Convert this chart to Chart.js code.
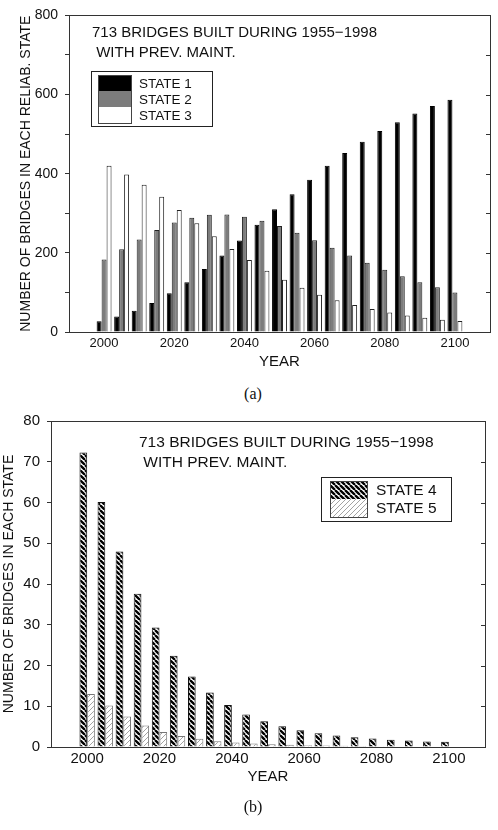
<!DOCTYPE html>
<html>
<head>
<meta charset="utf-8">
<script src="https://cdn.jsdelivr.net/npm/chart.js@4.4.0/dist/chart.umd.min.js"></script>
<style>
  body { margin: 0; background: #fff; width: 498px; height: 830px; position: relative; overflow: hidden;
         font-family: "Liberation Sans", Arial, sans-serif; color: #111; }
  .wrap { position: absolute; left: 0; width: 498px; }
  .note { position: absolute; line-height: 20px; white-space: pre; }
  .cap { position: absolute; left: 4px; width: 498px; text-align: center;
         font-family: "Liberation Serif", "Times New Roman", serif; font-size: 16px; }
</style>
</head>
<body>
<div class="wrap" style="top:0;height:380px"><canvas id="chartA"></canvas></div>
<div class="note" style="left:92px;top:22px;font-size:15px">713 BRIDGES BUILT DURING 1955−1998
 WITH PREV. MAINT.</div>
<div class="cap" style="top:385px">(a)</div>

<div class="wrap" style="top:400px;height:400px"><canvas id="chartB"></canvas></div>
<div class="note" style="left:139px;top:432px;font-size:15.5px">713 BRIDGES BUILT DURING 1955−1998
 WITH PREV. MAINT.</div>
<div class="cap" style="top:798px">(b)</div>

<script>
// years of the simulation (one group of bars every 5 years)
const years = [2000, 2005, 2010, 2015, 2020, 2025, 2030, 2035, 2040, 2045, 2050,
               2055, 2060, 2065, 2070, 2075, 2080, 2085, 2090, 2095, 2100];
const yearTicks = [2000, 2020, 2040, 2060, 2080, 2100];

// chart (a) - states 1..3
const state1 = [27, 39, 54, 73, 98, 126, 159, 193, 231, 271, 310, 348, 385, 420, 452, 481, 508, 530, 552, 571, 587];
const state2 = [183, 209, 234, 258, 277, 289, 296, 297, 291, 281, 268, 251, 232, 213, 193, 175, 157, 141, 126, 113, 100];
const state3 = [420, 398, 372, 342, 308, 275, 242, 210, 182, 155, 132, 112, 94, 80, 68, 58, 49, 42, 36, 31, 28];

// chart (b) - states 4 and 5
const state4 = [72.3, 60.1, 48.0, 37.6, 29.3, 22.4, 17.3, 13.4, 10.3, 8.0, 6.3, 5.1, 4.1, 3.4, 2.8, 2.4, 2.1, 1.8, 1.6, 1.35, 1.3];
const state5 = [13.0, 10.2, 7.5, 5.3, 3.7, 2.7, 2.0, 1.4, 1.1, 0.85, 0.7, 0.55, 0.45, 0.35, 0.3, 0.25, 0.2, 0.15, 0.1, 0.1, 0.1];

Chart.defaults.font.family = '"Liberation Sans", Arial, sans-serif';
Chart.defaults.color = '#111';

const pairs = vals => vals.map((v, i) => ({ x: years[i], y: v }));

// hatch patterns for states 4 and 5
function stripes(size, color, width, dir, bg) {
  const c = document.createElement('canvas');
  c.width = c.height = size;
  const g = c.getContext('2d');
  g.fillStyle = bg;
  g.fillRect(0, 0, size, size);
  g.strokeStyle = color;
  g.lineWidth = width;
  g.beginPath();
  for (let k = -1; k <= 1; k++) {
    if (dir === '\\') { g.moveTo(k * size, 0); g.lineTo(k * size + size, size); }
    else { g.moveTo(k * size, size); g.lineTo(k * size + size, 0); }
  }
  g.stroke();
  return g.createPattern(c, 'repeat');
}
const hatch4 = stripes(5, '#000', 2.3, '\\', '#fff');
const hatch5 = stripes(5, '#999', 0.9, '/', '#fff');

// box around plot, inward ticks on the right, and the boxed legend
const frame = {
  id: 'frame',
  afterDatasetsDraw(chart, args, opts) {
    const { ctx, chartArea: a, scales: { y } } = chart;
    ctx.save();
    ctx.strokeStyle = '#333';
    ctx.lineWidth = 1;
    ctx.strokeRect(Math.round(a.left) + 0.5, Math.round(a.top) + 0.5,
                   Math.round(a.right - a.left), Math.round(a.bottom - a.top));
    ctx.beginPath();
    y.ticks.forEach(t => {
      const py = Math.round(y.getPixelForValue(t.value)) + 0.5;
      ctx.moveTo(a.right, py);
      ctx.lineTo(a.right - 4, py);
    });
    ctx.stroke();

    const L = opts.legend;
    ctx.fillStyle = '#fff';
    ctx.fillRect(L.x, L.y, L.w, L.h);
    ctx.strokeStyle = '#222';
    ctx.strokeRect(L.x + 0.5, L.y + 0.5, L.w, L.h);
    ctx.font = L.font + 'px "Liberation Sans", Arial, sans-serif';
    ctx.textBaseline = 'middle';
    chart.data.datasets.forEach((ds, i) => {
      const sy = L.sy + i * L.sh;
      ctx.fillStyle = ds.backgroundColor;
      ctx.fillRect(L.sx, sy, L.sw, L.sh);
      ctx.fillStyle = '#111';
      ctx.fillText(ds.label, L.tx, sy + L.sh / 2 + 1);
    });
    ctx.strokeStyle = '#444';
    ctx.strokeRect(L.sx + 0.5, L.sy + 0.5, L.sw, L.sh * chart.data.datasets.length);
    ctx.restore();
  }
};

function xAxis(labelSize, pad, titleSize, titleBottom, height) {
  return {
    type: 'linear', min: 1990, max: 2110, offset: false,
    afterBuildTicks: s => { s.ticks = yearTicks.map(v => ({ value: v })); },
    afterFit: s => { s.height = height; },
    grid: { display: false, drawTicks: false },
    border: { display: true, color: '#333' },
    ticks: { padding: pad, font: { size: labelSize }, callback: v => String(v) },
    title: { display: true, text: 'YEAR', font: { size: titleSize }, padding: { top: 0, bottom: titleBottom } }
  };
}

new Chart(document.getElementById('chartA'), {
  type: 'bar',
  data: {
    datasets: [
      { label: 'STATE 1', data: pairs(state1), backgroundColor: '#000', borderColor: '#000', borderWidth: 1 },
      { label: 'STATE 2', data: pairs(state2), backgroundColor: '#7c7c7c', borderColor: '#222', borderWidth: 1 },
      { label: 'STATE 3', data: pairs(state3), backgroundColor: '#fff', borderColor: '#222', borderWidth: 1 }
    ]
  },
  options: {
    responsive: true, maintainAspectRatio: false, animation: false,
    layout: { padding: { top: 15, right: 8, left: 0, bottom: 0 } },
    datasets: { bar: { categoryPercentage: 0.85, barPercentage: 1 } },
    plugins: {
      legend: { display: false }, tooltip: { enabled: false },
      frame: { legend: { x: 91, y: 71, w: 121, h: 55, sx: 98, sy: 75, sw: 33, sh: 16, tx: 139, font: 13.5 } }
    },
    scales: {
      x: xAxis(13, 4, 15, 9, 48),
      y: {
        min: 0, max: 800,
        afterFit: s => { s.width = 69; },
        ticks: { stepSize: 100, padding: 7, font: { size: 14 }, callback: v => (v % 200 === 0 ? v : '') },
        grid: { drawOnChartArea: false, tickLength: 4, color: '#333' },
        border: { display: true, color: '#333' },
        title: { display: true, text: 'NUMBER OF BRIDGES IN EACH RELIAB. STATE', font: { size: 14 },
                 padding: { top: 17.6, bottom: 0 } }
      }
    }
  },
  plugins: [frame]
});

new Chart(document.getElementById('chartB'), {
  type: 'bar',
  data: {
    datasets: [
      { label: 'STATE 4', data: pairs(state4), backgroundColor: hatch4, borderColor: '#111', borderWidth: 1 },
      { label: 'STATE 5', data: pairs(state5), backgroundColor: hatch5, borderColor: '#777', borderWidth: 1 }
    ]
  },
  options: {
    responsive: true, maintainAspectRatio: false, animation: false,
    layout: { padding: { top: 21, right: 13, left: 0, bottom: 0 } },
    datasets: { bar: { categoryPercentage: 0.85, barPercentage: 1 } },
    plugins: {
      legend: { display: false }, tooltip: { enabled: false },
      frame: { legend: { x: 321, y: 77, w: 130, h: 44, sx: 330, sy: 81, sw: 37, sh: 18, tx: 376, font: 15.5 } }
    },
    scales: {
      x: xAxis(15, 3, 15, 13.7, 53),
      y: {
        min: 0, max: 80,
        afterFit: s => { s.width = 51; },
        ticks: { stepSize: 5, padding: 7, font: { size: 15 }, callback: v => (v % 10 === 0 ? v : '') },
        grid: { drawOnChartArea: false, tickLength: 4, color: '#333' },
        border: { display: true, color: '#333' },
        title: { display: true, text: 'NUMBER OF BRIDGES IN EACH STATE', font: { size: 14 },
                 padding: { top: 1, bottom: 0 } }
      }
    }
  },
  plugins: [frame]
});
</script>
</body>
</html>
